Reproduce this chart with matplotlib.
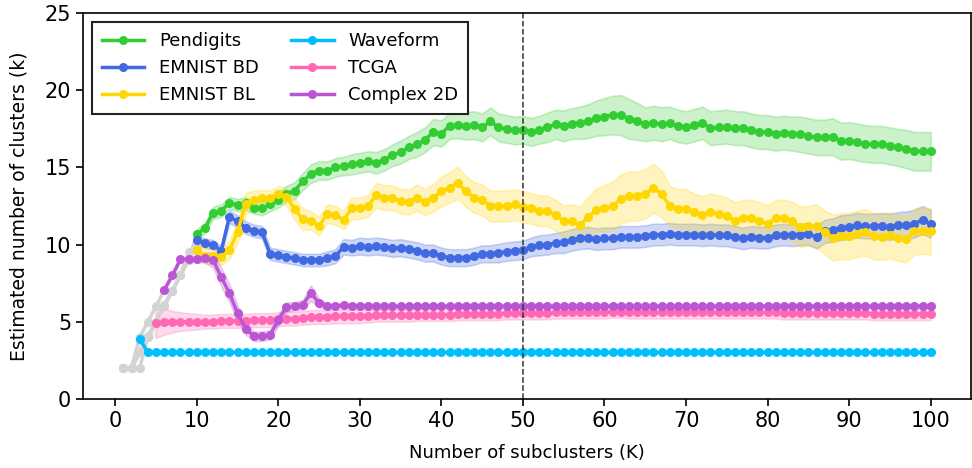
import numpy as np
import matplotlib
matplotlib.use("Agg")
import matplotlib.pyplot as plt

K = np.arange(1, 101)

# estimated k for every K (1..100); first part (K <= start) drawn in gray
pendigits = [
    2.0, 2.0, 3.0, 4.0, 5.0, 6.0, 7.0, 8.0, 9.0, 10.7,
    11.05, 12.06, 12.2, 12.7, 12.56, 12.67, 12.4, 12.35, 12.6, 12.9,
    13.3, 13.5, 14.1, 14.6, 14.8, 14.8, 15.0, 15.1, 15.2, 15.3,
    15.4, 15.3, 15.5, 15.8, 16.0, 16.3, 16.5, 16.8, 17.3, 17.2,
    17.7, 17.75, 17.7, 17.75, 17.6, 18.0, 17.6, 17.5, 17.4, 17.45,
    17.3, 17.45, 17.6, 17.8, 17.7, 17.85, 17.9, 18.0, 18.2, 18.3,
    18.4, 18.4, 18.15, 18.0, 17.8, 17.9, 17.8, 17.9, 17.7, 17.6,
    17.75, 17.9, 17.55, 17.6, 17.65, 17.55, 17.55, 17.4, 17.3, 17.3,
    17.2, 17.25, 17.2, 17.15, 17.05, 16.95, 16.95, 17.0, 16.7, 16.75,
    16.65, 16.55, 16.5, 16.5, 16.4, 16.3, 16.2, 16.05, 16.05, 16.05,
]
pendigits_std = [
    0, 0, 0, 0, 0, 0, 0, 0, 0.1, 0.3,
    0.35, 0.4, 0.4, 0.4, 0.4, 0.4, 0.4, 0.45, 0.45, 0.5,
    0.5, 0.55, 0.55, 0.6, 0.6, 0.6, 0.6, 0.6, 0.65, 0.65,
    0.65, 0.7, 0.7, 0.7, 0.75, 0.75, 0.8, 0.8, 0.85, 0.85,
    0.85, 0.85, 0.9, 0.9, 0.9, 0.9, 0.9, 0.9, 0.9, 0.9,
    0.9, 0.9, 0.95, 0.95, 1.0, 1.0, 1.05, 1.1, 1.15, 1.2,
    1.25, 1.3, 1.3, 1.2, 1.1, 1.1, 1.1, 1.05, 1.05, 1.05,
    1.05, 1.05, 1.1, 1.1, 1.1, 1.1, 1.1, 1.1, 1.1, 1.1,
    1.1, 1.1, 1.1, 1.15, 1.15, 1.15, 1.15, 1.2, 1.2, 1.2,
    1.2, 1.2, 1.2, 1.2, 1.2, 1.2, 1.25, 1.25, 1.25, 1.25,
]

emnist_bd = [
    2.0, 2.0, 3.0, 4.1, 5.0, 6.0, 7.0, 8.0, 9.0, 10.3,
    10.1, 10.0, 9.6, 11.8, 11.5, 11.1, 10.9, 10.8, 9.4, 9.3,
    9.2, 9.1, 9.0, 9.0, 9.0, 9.1, 9.25, 9.85, 9.8, 9.9,
    9.85, 9.9, 9.85, 9.75, 9.8, 9.7, 9.6, 9.45, 9.45, 9.25,
    9.15, 9.15, 9.15, 9.25, 9.4, 9.4, 9.45, 9.55, 9.6, 9.65,
    9.85, 9.95, 10.0, 10.1, 10.15, 10.3, 10.4, 10.45, 10.35, 10.4,
    10.4, 10.5, 10.5, 10.5, 10.55, 10.65, 10.65, 10.7, 10.65, 10.65,
    10.65, 10.6, 10.65, 10.6, 10.6, 10.5, 10.4, 10.5, 10.45, 10.45,
    10.6, 10.65, 10.6, 10.65, 10.7, 10.5, 10.85, 10.95, 11.1, 11.15,
    11.25, 11.2, 11.2, 11.2, 11.15, 11.25, 11.25, 11.35, 11.6, 11.35,
]
emnist_bd_std = [
    0, 0, 0, 0, 0, 0, 0, 0, 0.1, 0.3,
    0.3, 0.3, 0.3, 0.4, 0.4, 0.4, 0.4, 0.4, 0.4, 0.4,
    0.4, 0.4, 0.4, 0.4, 0.4, 0.45, 0.45, 0.5, 0.5, 0.55,
    0.55, 0.55, 0.55, 0.55, 0.55, 0.55, 0.55, 0.55, 0.55, 0.55,
    0.55, 0.55, 0.55, 0.55, 0.55, 0.55, 0.6, 0.6, 0.6, 0.6,
    0.6, 0.65, 0.65, 0.65, 0.7, 0.7, 0.7, 0.7, 0.7, 0.7,
    0.7, 0.7, 0.7, 0.7, 0.7, 0.7, 0.7, 0.7, 0.7, 0.7,
    0.7, 0.7, 0.7, 0.7, 0.7, 0.7, 0.7, 0.7, 0.7, 0.7,
    0.7, 0.7, 0.7, 0.7, 0.7, 0.75, 0.75, 0.75, 0.8, 0.8,
    0.8, 0.8, 0.8, 0.85, 0.85, 0.85, 0.9, 0.9, 0.9, 0.9,
]

emnist_bl = [
    2.0, 2.0, 3.0, 4.0, 5.0, 6.1, 7.0, 8.0, 9.5, 9.65,
    9.25, 9.25, 9.2, 9.65, 10.8, 12.65, 12.9, 13.05, 13.0, 13.3,
    13.1, 12.3, 11.65, 11.55, 11.2, 12.0, 11.9, 11.6, 12.35, 12.35,
    12.5, 13.2, 13.05, 13.05, 12.8, 12.75, 13.05, 12.75, 13.05, 13.45,
    13.7, 14.0, 13.45, 13.05, 12.9, 12.5, 12.5, 12.5, 12.6, 12.45,
    12.35, 12.2, 12.2, 11.9, 11.55, 11.5, 11.25, 11.8, 12.25, 12.35,
    12.5, 12.95, 13.15, 13.15, 13.3, 13.65, 13.3, 12.5, 12.3, 12.3,
    12.1, 11.95, 12.1, 12.0, 11.85, 11.55, 11.7, 11.7, 11.55, 11.35,
    11.7, 11.7, 11.5, 11.15, 11.2, 11.2, 10.8, 10.45, 10.55, 10.55,
    10.7, 10.8, 10.55, 10.5, 10.6, 10.45, 10.35, 10.85, 10.9, 10.85,
]
emnist_bl_std = [
    0, 0, 0, 0, 0, 0, 0, 0, 0.2, 0.4,
    0.5, 0.5, 0.5, 0.6, 0.7, 0.7, 0.6, 0.5, 0.5, 0.5,
    0.6, 0.7, 0.7, 0.6, 0.6, 0.6, 0.6, 0.6, 0.7, 0.7,
    0.7, 0.8, 0.8, 0.8, 0.8, 0.8, 0.85, 0.85, 0.9, 0.95,
    1.0, 1.05, 1.0, 1.0, 1.0, 1.0, 1.0, 1.0, 1.0, 1.0,
    1.0, 1.0, 1.0, 1.0, 1.0, 1.1, 1.2, 1.3, 1.4, 1.5,
    1.6, 1.6, 1.6, 1.6, 1.6, 1.6, 1.5, 1.3, 1.3, 1.3,
    1.2, 1.2, 1.2, 1.2, 1.2, 1.2, 1.2, 1.2, 1.2, 1.2,
    1.2, 1.2, 1.3, 1.3, 1.3, 1.4, 1.4, 1.5, 1.5, 1.5,
    1.5, 1.5, 1.5, 1.5, 1.5, 1.5, 1.5, 1.5, 1.5, 1.5,
]

waveform = [2.0, 2.0, 3.9] + [3.0] * 97
waveform_std = [0, 0, 0.3, 0.05] + [0.02] * 96

tcga = [
    2.0, 2.0, 2.0, 4.0, 4.9,
    5.0, 5.0, 5.0, 5.0, 5.0, 5.0, 5.0, 5.05, 5.05, 5.05,
    5.05, 5.1, 5.1, 5.1, 5.15, 5.2, 5.2, 5.25, 5.3, 5.3,
    5.3, 5.35, 5.35, 5.35, 5.35, 5.35, 5.4, 5.4, 5.4, 5.4,
    5.4, 5.45, 5.45, 5.45, 5.45, 5.45, 5.5, 5.5, 5.5, 5.5,
    5.5, 5.5, 5.55, 5.55, 5.55, 5.55, 5.55, 5.55, 5.6, 5.6,
    5.6, 5.6, 5.6, 5.6, 5.6, 5.65, 5.65, 5.6, 5.6, 5.6,
    5.6, 5.6, 5.6, 5.6, 5.6, 5.6, 5.6, 5.6, 5.6, 5.6,
    5.6, 5.6, 5.6, 5.6, 5.6, 5.6, 5.55, 5.55, 5.55, 5.55,
    5.55, 5.55, 5.55, 5.55, 5.55, 5.55, 5.55, 5.5, 5.5, 5.5,
    5.5, 5.5, 5.5, 5.5, 5.5,
]
tcga_std = [0, 0, 0, 0, 0.95, 0.85, 0.7, 0.6, 0.55, 0.5] + [0.45] * 20 + [0.4] * 70

complex2d = [
    2.0, 2.0, 4.0, 5.0, 6.0, 7.05,
    8.0, 9.05, 9.05, 9.05, 9.15, 9.0, 7.9, 6.85, 5.55, 4.55,
    4.05, 4.05, 4.15, 5.1, 5.95, 6.0, 6.1, 6.85, 6.2, 6.0,
    6.0, 6.1, 6.0, 6.0, 6.0, 6.0, 6.0, 6.0, 6.0, 6.0,
] + [6.0] * 64
complex2d_std = [
    0, 0, 0, 0, 0, 0.1,
    0.1, 0.1, 0.15, 0.2, 0.3, 0.5, 0.6, 0.6, 0.5, 0.4,
    0.3, 0.3, 0.3, 0.35, 0.3, 0.25, 0.3, 0.5, 0.3, 0.15,
] + [0.1] * 74

names = ["Pendigits", "EMNIST BD", "EMNIST BL", "Waveform", "TCGA", "Complex 2D"]
series = [pendigits, emnist_bd, emnist_bl, waveform, tcga, complex2d]
stds = [pendigits_std, emnist_bd_std, emnist_bl_std, waveform_std, tcga_std, complex2d_std]
starts = [10, 10, 10, 3, 5, 6]  # first K drawn in colour
colors = ["#32CD32", "#4169E1", "#FFD700", "#00BFFF", "#FF69B4", "#BA55D3"]
gray = "#D3D3D3"

fig = plt.figure(figsize=(9.72, 4.68), dpi=100)
ax = fig.add_axes([0.0854, 0.148, 0.9136, 0.8235])

# gray warm-up part first, underneath
for vals, sd, s in zip(series, stds, starts):
    v = np.array(vals)
    e = np.array(sd)
    m = K <= s
    ax.fill_between(K[m], v[m] - e[m], v[m] + e[m], color=gray, alpha=0.3, lw=0)
    ax.plot(K[m], v[m], "o-", color=gray, lw=2.5, ms=5.5)

for name, vals, sd, s, c in zip(names, series, stds, starts, colors):
    v = np.array(vals)
    e = np.array(sd)
    m = K >= s
    ax.fill_between(K[m], v[m] - e[m], v[m] + e[m], color=c, alpha=0.25, lw=1.2)
    ax.plot(K[m], v[m], "o-", color=c, lw=2.5, ms=5.5, label=name)

ax.axvline(50, color="#333333", ls="--", lw=1.1)

ax.set_ylim(0, 25)
ax.set_xticks(np.arange(0, 101, 10))
ax.set_yticks(np.arange(0, 26, 5))
ax.tick_params(labelsize=15, length=5, width=1.2)
for sp in ax.spines.values():
    sp.set_linewidth(1.2)
ax.set_xlabel("Number of subclusters (K)", fontsize=13, labelpad=10)
ax.set_ylabel("Estimated number of clusters (k)", fontsize=13.5, labelpad=12)

leg = ax.legend(loc="upper left", ncol=2, fontsize=13, fancybox=False,
                edgecolor="#222222", framealpha=1, handlelength=2.35,
                borderpad=0.55, columnspacing=1.8)
leg.get_frame().set_linewidth(1.5)

fig.savefig("out.png", dpi=100)
